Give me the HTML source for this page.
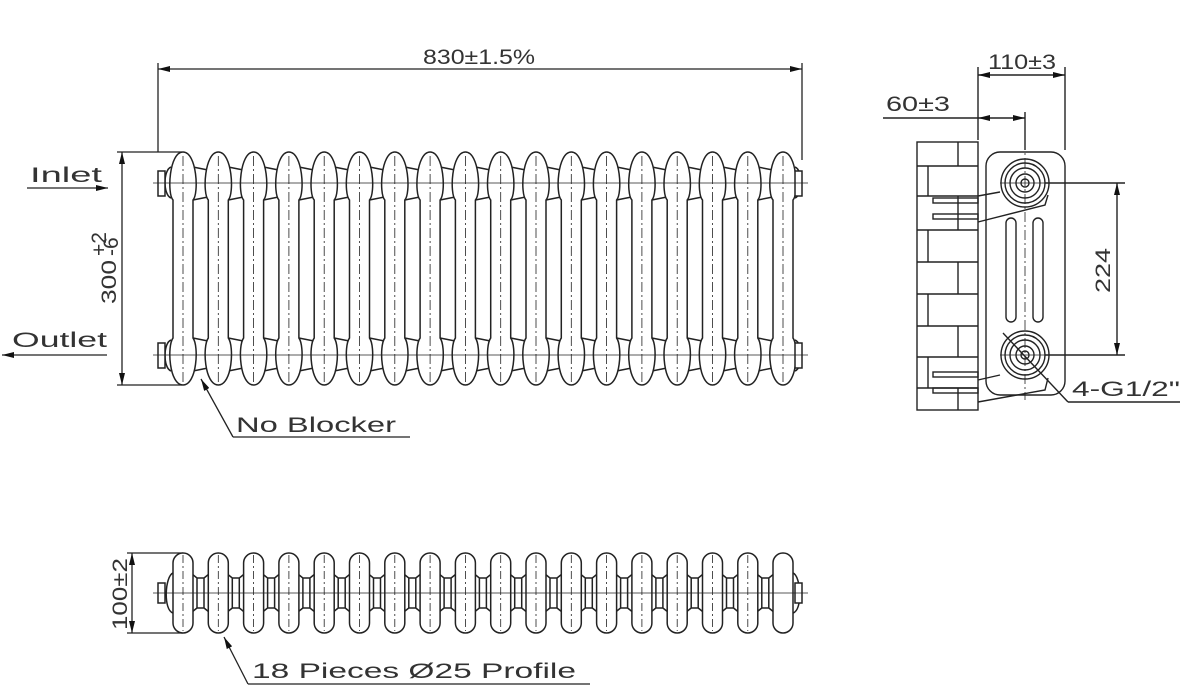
<!DOCTYPE html>
<html><head><meta charset="utf-8"><style>
html,body{margin:0;padding:0;background:#fff}
svg{display:block}
text{font-family:"Liberation Sans",sans-serif;fill:#333;font-size:21px}
</style></head><body>
<svg width="1190" height="693" viewBox="0 0 1190 693" xmlns="http://www.w3.org/2000/svg">
<defs>
<marker id="a" viewBox="0 0 12 6" refX="12" refY="3" markerWidth="12" markerHeight="6" orient="auto-start-reverse" markerUnits="userSpaceOnUse"><path d="M0,0 L12,3 L0,6 Z" fill="#111"/></marker>
<g id="fs" fill="#fff" stroke="#222" stroke-width="1.5">
<path d="M10,167 L25,170 L25,197 L10,200 M10,338 L25,341 L25,368 L10,371" fill="#fff"/>
<path d="M-10,200 L-10,338 C-16,346 -14,385 0,385 C14,385 16,346 10,338 L10,200 C16,194 14,152 0,152 C-14,152 -16,194 -10,200 Z"/>
<line x1="0" y1="156" x2="0" y2="383" stroke-width="0.8" stroke-dasharray="10,3,2,3"/>
</g>
<g id="bs" fill="#fff" stroke="#222" stroke-width="1.5">
<path d="M9,574 L14,578 L14,608 L9,612 M26,574 L21,578 L21,608 L26,612 M14,578 H21 M14,608 H21" fill="#fff"/>
<rect x="-10" y="553" width="20" height="80" rx="10"/>
<line x1="0" y1="555" x2="0" y2="631" stroke-width="0.8" stroke-dasharray="8,3,2,3"/>
</g>
</defs>
<g stroke="#222" stroke-width="1.3" fill="none">
<line x1="158" y1="63" x2="158" y2="152"/><line x1="802" y1="63" x2="802" y2="160"/>
<line x1="158" y1="69" x2="802" y2="69" marker-start="url(#a)" marker-end="url(#a)"/>
<line x1="117" y1="152" x2="182" y2="152"/><line x1="117" y1="385" x2="182" y2="385"/>
<line x1="122" y1="152" x2="122" y2="385" marker-start="url(#a)" marker-end="url(#a)"/>
<line x1="27" y1="188" x2="108" y2="188" marker-end="url(#a)"/>
<line x1="107" y1="355" x2="2" y2="355" marker-end="url(#a)"/>
</g>
<g>
<use href="#fs" x="183"/><use href="#fs" x="218.3"/><use href="#fs" x="253.6"/><use href="#fs" x="288.9"/><use href="#fs" x="324.2"/><use href="#fs" x="359.5"/><use href="#fs" x="394.8"/><use href="#fs" x="430.1"/><use href="#fs" x="465.4"/><use href="#fs" x="500.7"/><use href="#fs" x="536"/><use href="#fs" x="571.3"/><use href="#fs" x="606.6"/><use href="#fs" x="641.9"/><use href="#fs" x="677.2"/><use href="#fs" x="712.5"/><use href="#fs" x="747.8"/>
<g fill="#fff" stroke="#222" stroke-width="1.5">
<path d="M773,200 L773,338 C767,346 769,385 783,385 C797,385 799,346 793,338 L793,200 C799,194 797,152 783,152 C769,152 767,194 773,200 Z"/>
<line x1="783" y1="156" x2="783" y2="383" stroke-width="0.8" stroke-dasharray="10,3,2,3"/>
<path d="M171,167 C163,170 163,195 171,198 M171,340 C163,343 163,368 171,371 M795,167 C803,170 803,195 795,198 M795,340 C803,343 803,368 795,371" fill="none"/>
<rect x="158" y="171" width="7" height="25"/><rect x="158" y="343" width="7" height="25"/>
<rect x="795" y="171" width="7" height="25"/><rect x="795" y="343" width="7" height="25"/>
</g>
<g stroke="#222" stroke-width="0.8">
<line x1="153" y1="183" x2="808" y2="183"/><line x1="153" y1="355" x2="808" y2="355"/>
</g>
</g>
<g stroke="#222" stroke-width="1.3" fill="none">
<polyline points="233,437 410,437" /><line x1="233" y1="437" x2="201" y2="379" marker-end="url(#a)"/>
<polyline points="248,684 590,684"/><line x1="248" y1="684" x2="224" y2="637" marker-end="url(#a)"/>
<line x1="127" y1="553" x2="183" y2="553"/><line x1="127" y1="633" x2="183" y2="633"/>
<line x1="132" y1="553" x2="132" y2="633" marker-start="url(#a)" marker-end="url(#a)"/>
</g>
<g>
<use href="#bs" x="183"/><use href="#bs" x="218.3"/><use href="#bs" x="253.6"/><use href="#bs" x="288.9"/><use href="#bs" x="324.2"/><use href="#bs" x="359.5"/><use href="#bs" x="394.8"/><use href="#bs" x="430.1"/><use href="#bs" x="465.4"/><use href="#bs" x="500.7"/><use href="#bs" x="536"/><use href="#bs" x="571.3"/><use href="#bs" x="606.6"/><use href="#bs" x="641.9"/><use href="#bs" x="677.2"/><use href="#bs" x="712.5"/><use href="#bs" x="747.8"/>
<g fill="#fff" stroke="#222" stroke-width="1.5">
<rect x="773" y="553" width="20" height="80" rx="10"/>
<path d="M173,573 C165,576 163,610 173,613 M793,573 C801,576 803,610 793,613" fill="none"/>
<rect x="158" y="583" width="7" height="20"/><rect x="795" y="583" width="7" height="20"/>
</g>
<line x1="153" y1="593" x2="808" y2="593" stroke="#222" stroke-width="0.8"/>
</g>
<g stroke="#222" stroke-width="1.4" fill="none">
<rect x="917" y="142" width="61" height="268"/>
<path d="M917,166 H978 M917,196 H978 M917,230 H978 M917,262 H978 M917,294 H978 M917,326 H978 M917,357 H978 M917,388 H978 M958,142 V166 M928,166 V196 M958,196 V230 M928,230 V262 M958,262 V294 M928,294 V326 M958,326 V357 M928,357 V388 M958,388 V410"/>
<rect x="986" y="152" width="79" height="243" rx="14"/>
<rect x="1006" y="218" width="10" height="104" rx="5"/><rect x="1033" y="218" width="10" height="104" rx="5"/>
<circle cx="1025" cy="183" r="24"/><circle cx="1025" cy="183" r="20"/><circle cx="1025" cy="183" r="15"/><circle cx="1025" cy="183" r="9"/><circle cx="1025" cy="183" r="4"/>
<circle cx="1025" cy="355" r="24"/><circle cx="1025" cy="355" r="20"/><circle cx="1025" cy="355" r="15"/><circle cx="1025" cy="355" r="9"/><circle cx="1025" cy="355" r="4"/>
<path d="M978,196 L1000,192 M978,222 L1045,205 L1048,195 M978,380 L1000,375 M978,402 L1045,390 L1048,378"/>
<rect x="933" y="198" width="45" height="5"/><rect x="933" y="214" width="45" height="5"/>
<rect x="933" y="372" width="45" height="5"/><rect x="933" y="388" width="45" height="5"/>
<line x1="978" y1="67" x2="978" y2="140"/><line x1="1065" y1="67" x2="1065" y2="150"/>
<line x1="978" y1="75" x2="1065" y2="75" marker-start="url(#a)" marker-end="url(#a)"/>
<line x1="1025" y1="112" x2="1025" y2="150"/>
<line x1="883" y1="118" x2="978" y2="118"/>
<line x1="978" y1="118" x2="1025" y2="118" marker-start="url(#a)" marker-end="url(#a)"/>
<line x1="1045" y1="183" x2="1125" y2="183"/><line x1="1045" y1="355" x2="1125" y2="355"/>
<line x1="1117" y1="183" x2="1117" y2="355" marker-start="url(#a)" marker-end="url(#a)"/>
<line x1="1003" y1="333" x2="1068" y2="402"/><line x1="1068" y1="402" x2="1180" y2="402"/>
<line x1="1025" y1="140" x2="1025" y2="400" stroke-width="0.8" stroke-dasharray="10,3,2,3"/>
<line x1="1000" y1="183" x2="1050" y2="183" stroke-width="0.8"/><line x1="1000" y1="355" x2="1050" y2="355" stroke-width="0.8"/>
</g>
<text x="423" y="64" textLength="112" lengthAdjust="spacingAndGlyphs">830±1.5%</text>
<text x="30" y="182" textLength="72" lengthAdjust="spacingAndGlyphs">Inlet</text>
<text x="12" y="347" textLength="95" lengthAdjust="spacingAndGlyphs">Outlet</text>
<text transform="translate(116,304) rotate(-90)" textLength="44" lengthAdjust="spacingAndGlyphs">300</text>
<text transform="translate(106,256) rotate(-90)" font-size="11">+2</text>
<text transform="translate(118,256) rotate(-90)" font-size="11">-6</text>
<text x="236" y="432" textLength="160" lengthAdjust="spacingAndGlyphs">No Blocker</text>
<text transform="translate(127,630) rotate(-90)" textLength="72" lengthAdjust="spacingAndGlyphs">100±2</text>
<text x="252" y="678" textLength="324" lengthAdjust="spacingAndGlyphs">18 Pieces Ø25 Profile</text>
<text x="988" y="69" textLength="68" lengthAdjust="spacingAndGlyphs">110±3</text>
<text x="886" y="111" textLength="64" lengthAdjust="spacingAndGlyphs">60±3</text>
<text transform="translate(1110,293) rotate(-90)" textLength="45" lengthAdjust="spacingAndGlyphs">224</text>
<text x="1072" y="396" textLength="108" lengthAdjust="spacingAndGlyphs">4-G1/2"</text>
</svg>
</body></html>
